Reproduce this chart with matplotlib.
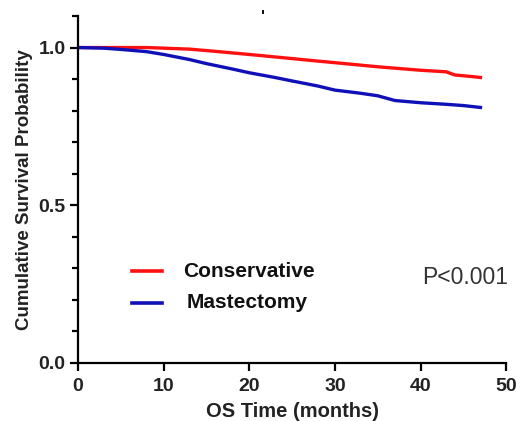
import matplotlib
matplotlib.use('Agg')
import matplotlib.pyplot as plt
from matplotlib.ticker import MultipleLocator

plt.rcParams['font.family'] = ['Liberation Sans', 'DejaVu Sans']

# survival estimates (months, probability)
cons_t = [0, 5, 8, 10, 13, 16, 20, 25, 28, 30, 35, 40, 43, 44, 46, 47]
cons_s = [1.0, 1.0, 1.0, 0.998, 0.995, 0.988, 0.978, 0.965, 0.957, 0.952, 0.939, 0.928, 0.923, 0.913, 0.908, 0.905]

mast_t = [0, 3, 5, 8, 10, 13, 15, 18, 20, 23, 25, 28, 30, 33, 35, 37, 40, 43, 45, 47]
mast_s = [1.0, 0.998, 0.994, 0.987, 0.978, 0.962, 0.949, 0.932, 0.920, 0.905, 0.894, 0.878, 0.865, 0.855, 0.847, 0.832, 0.825, 0.820, 0.816, 0.810]

fig = plt.figure(figsize=(5.17, 4.21), dpi=100)
ax = fig.add_axes([0.151, 0.138, 0.828, 0.824])

ax.plot(cons_t, cons_s, color='#ff1010', lw=2.4)
ax.plot(mast_t, mast_s, color='#1010b8', lw=2.4)

ax.set_xlim(0, 50)
ax.set_ylim(0, 1.1)
ax.xaxis.set_major_locator(MultipleLocator(10))
ax.yaxis.set_minor_locator(MultipleLocator(0.1))
ax.set_yticks([0.0, 0.5, 1.0])
ax.set_yticklabels(['0.0', '0.5', '1.0'])

for s in ['top', 'right']:
    ax.spines[s].set_visible(False)
for s in ['left', 'bottom']:
    ax.spines[s].set_linewidth(1.6)
ax.tick_params(which='major', length=6, width=1.6, labelsize=14, pad=3)
ax.tick_params(axis='x', pad=5)
ax.tick_params(which='minor', length=4, width=1.6)
for lab in ax.get_xticklabels() + ax.get_yticklabels():
    lab.set_fontweight('bold')
    lab.set_color('#222222')

ax.set_xlabel('OS Time (months)', fontsize=14.5, fontweight='bold', color='#222222', labelpad=5)
ax.set_ylabel('Cumulative Survival Probability', fontsize=13.5, fontweight='bold', color='#222222', labelpad=4)

# legend drawn by hand
ax.plot([6.3, 9.8], [0.29, 0.29], color='#ff1010', lw=2.6, clip_on=False)
ax.plot([6.3, 9.8], [0.19, 0.19], color='#1010b8', lw=2.6, clip_on=False)
ax.text(12.3, 0.29, 'Conservative', fontsize=15, fontweight='bold', va='center', color='#111111')
ax.text(12.7, 0.19, 'Mastectomy', fontsize=15, fontweight='bold', va='center', color='#111111')
ax.text(40.2, 0.27, 'P<0.001', fontsize=16.5, va='center', color='#333333')
# small stray mark at the top, as in the source image
ax.text(21.6, 1.095, "'", fontsize=12, fontweight='bold', ha='center', va='center', color='#111111')

fig.savefig('out.png', dpi=100)
